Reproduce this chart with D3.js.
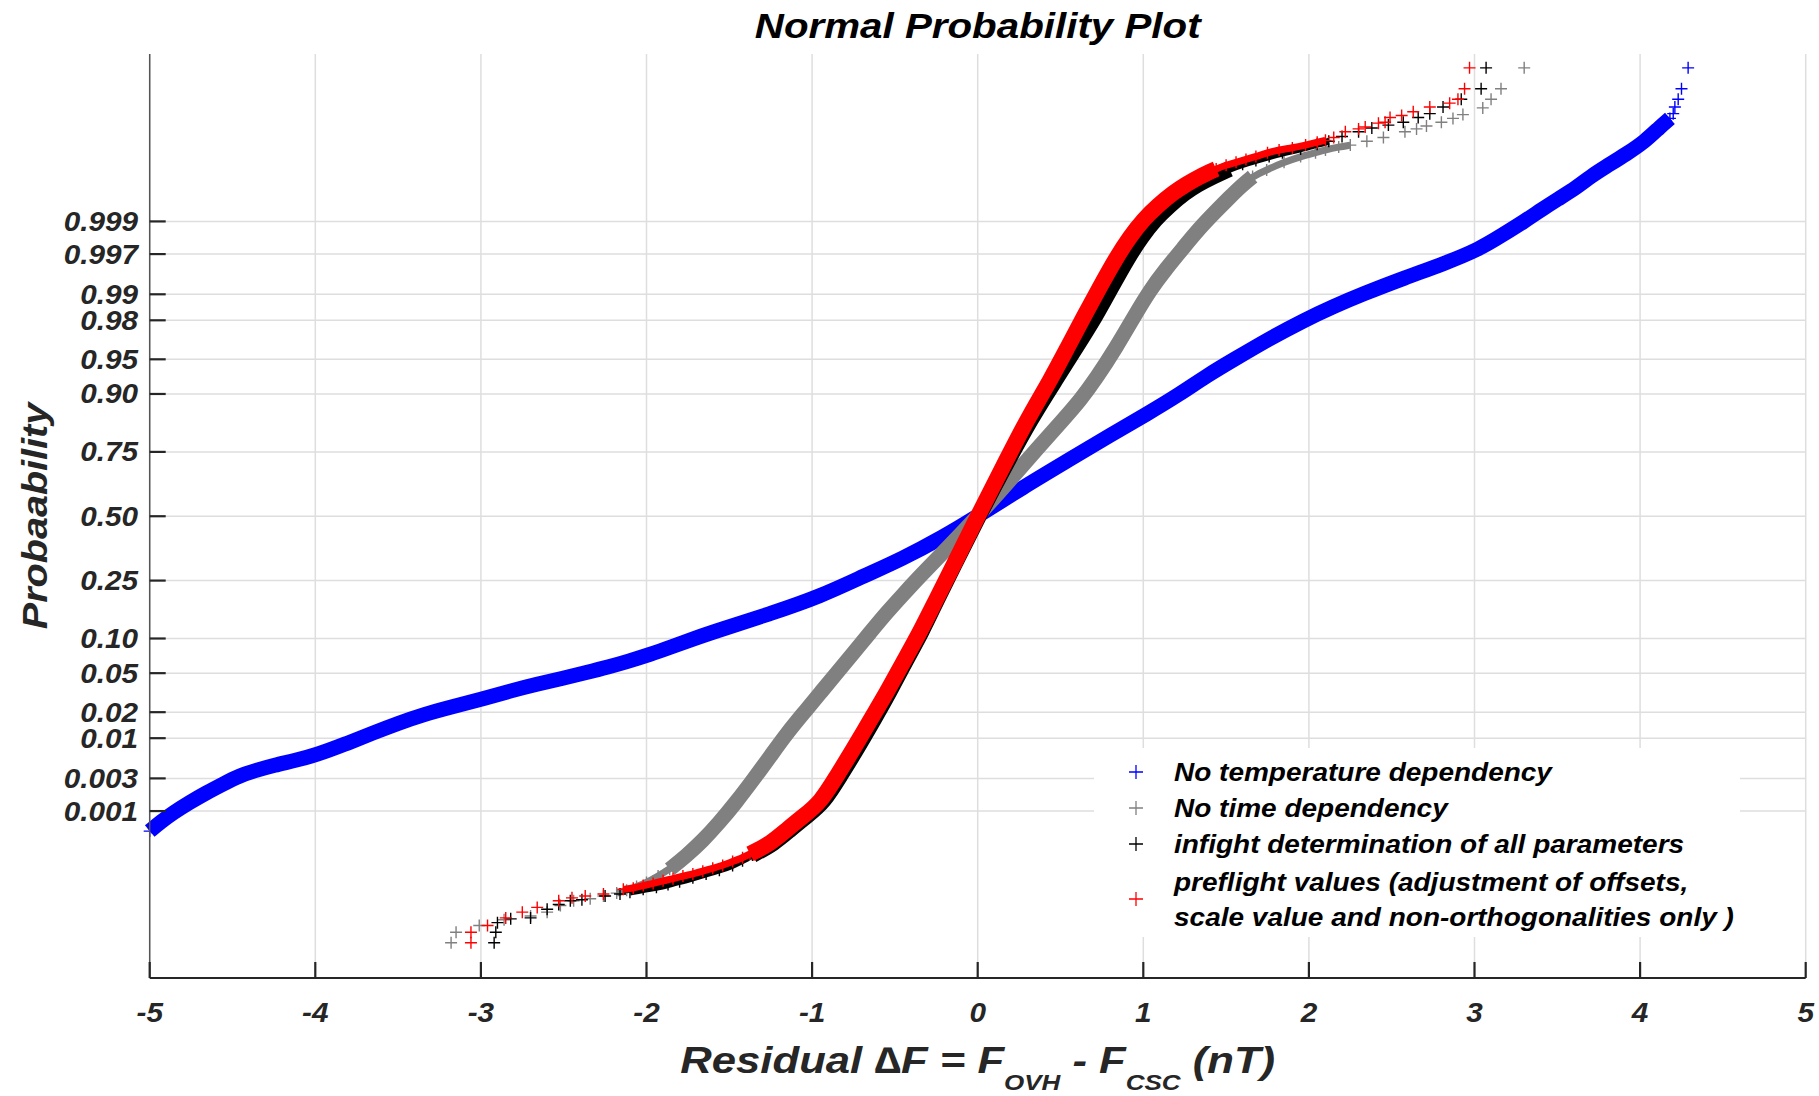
<!DOCTYPE html>
<html>
<head>
<meta charset="utf-8">
<script src="https://cdn.jsdelivr.net/npm/d3@7"></script>
<style>
  body { margin: 0; background: #fff; }
  text { font-family: "Liberation Sans", Arial, sans-serif; font-weight: bold; font-style: italic; }
</style>
</head>
<body>
<div id="chart"></div>
<script>
// points: [residual dF (nT), normal score]
// core = dense part (thick band), fringe = thinning edge of the band, tail = lone markers
const tempCore = [[-5.00,-3.30],[-4.93,-3.20],[-4.86,-3.11],[-4.76,-3.00],[-4.66,-2.90],[-4.56,-2.81],[-4.46,-2.72],
  [-4.35,-2.66],[-4.25,-2.61],[-4.12,-2.56],[-3.99,-2.50],[-3.82,-2.39],[-3.65,-2.27],[-3.50,-2.17],[-3.35,-2.08],
  [-3.18,-2.00],[-3.00,-1.92],[-2.82,-1.83],[-2.66,-1.76],[-2.51,-1.70],[-2.37,-1.64],[-2.23,-1.58],[-2.11,-1.52],
  [-1.98,-1.45],[-1.85,-1.37],[-1.71,-1.28],[-1.556,-1.19],[-1.25,-1.02],[-0.95,-0.84],[-0.68,-0.62],[-0.46,-0.45],
  [-0.21,-0.22],[0,0],[0.27,0.30],[0.55,0.59],[0.80,0.85],[1.03,1.08],[1.22,1.28],[1.38,1.47],[1.55,1.645],
  [1.75,1.85],[1.97,2.054],[2.15,2.20],[2.32,2.326],[2.58,2.50],[2.82,2.65],[3.03,2.80],[3.17,2.95],[3.30,3.09],
  [3.41,3.22],[3.50,3.32],[3.62,3.45],[3.70,3.56],[3.79,3.66],[3.92,3.80],[4.03,3.93],[4.12,4.08],[4.18,4.17]];
const tempFringe = [];
const tempTail = [[4.20,4.22],[4.21,4.29],[4.23,4.37],[4.25,4.48],[4.29,4.70]];

const timeCore = [[-1.86,-3.70],[-1.76,-3.56],[-1.66,-3.40],[-1.56,-3.21],[-1.46,-3.00],[-1.355,-2.76],
  [-1.25,-2.51],[-1.15,-2.27],[-1.05,-2.06],[-0.95,-1.85],[-0.85,-1.64],[-0.75,-1.43],[-0.65,-1.22],[-0.55,-1.01],
  [-0.45,-0.82],[-0.35,-0.63],[-0.17,-0.31],[0,0],[0.18,0.35],[0.36,0.71],[0.52,1.02],[0.62,1.22],[0.71,1.43],
  [0.84,1.78],[0.94,2.08],[1.04,2.37],[1.14,2.60],[1.24,2.81],[1.34,3.02],[1.44,3.20],[1.52,3.34],[1.59,3.46],
  [1.66,3.56]];
const timeFringe = [[-2.18,-3.95],[-2.12,-3.92],[-2.06,-3.88],[-2.00,-3.84],[-1.93,-3.77],
  [1.745,3.63],[1.85,3.71],[1.95,3.77],[2.04,3.81],[2.10,3.84],[2.18,3.87],[2.25,3.89]];
const timeTail = [[-3.18,-4.47],[-3.15,-4.36],[-3.01,-4.29],[-2.86,-4.23],[-2.70,-4.19],[-2.60,-4.15],[-2.52,-4.08],
  [-2.44,-4.03],[-2.34,-4.01],[-2.26,-3.98],
  [2.35,3.93],[2.45,3.97],[2.58,4.03],[2.65,4.06],[2.71,4.09],[2.80,4.13],[2.87,4.17],[2.93,4.21],[3.05,4.28],
  [3.10,4.37],[3.16,4.48],[3.30,4.70]];

const inflightCore = [[-1.36,-3.55],[-1.23,-3.43],[-1.13,-3.28],[-1.03,-3.14],[-0.93,-3.00],[-0.83,-2.72],
  [-0.73,-2.44],[-0.63,-2.14],[-0.535,-1.85],[-0.44,-1.53],[-0.34,-1.22],[-0.245,-0.87],[-0.145,-0.52],[0.005,0],
  [0.16,0.51],[0.32,1.02],[0.47,1.43],[0.59,1.76],[0.71,2.09],[0.81,2.41],[0.91,2.72],[0.99,2.93],[1.07,3.11],
  [1.16,3.26],[1.25,3.39],[1.33,3.48],[1.42,3.56],[1.52,3.64]];
const inflightFringe = [[-2.10,-3.94],[-2.02,-3.91],[-1.94,-3.89],[-1.87,-3.86],[-1.80,-3.83],[-1.72,-3.79],
  [-1.64,-3.75],[-1.56,-3.71],[-1.48,-3.66],[-1.42,-3.61],
  [1.60,3.69],[1.68,3.73],[1.76,3.77],[1.84,3.81],[1.95,3.85],[2.05,3.90],[2.12,3.93]];
const inflightTail = [[-2.92,-4.47],[-2.91,-4.36],[-2.90,-4.26],[-2.82,-4.22],[-2.70,-4.21],[-2.60,-4.12],
  [-2.53,-4.07],[-2.46,-4.03],[-2.39,-4.02],[-2.25,-3.98],[-2.16,-3.96],
  [2.20,3.98],[2.30,4.03],[2.38,4.07],[2.48,4.10],[2.57,4.13],[2.66,4.18],[2.73,4.22],[2.81,4.29],[2.92,4.37],
  [3.04,4.48],[3.07,4.70]];

const preflightCore = [[-1.375,-3.54],[-1.25,-3.43],[-1.15,-3.28],[-1.05,-3.14],[-0.95,-3.00],[-0.85,-2.72],
  [-0.75,-2.44],[-0.65,-2.14],[-0.55,-1.85],[-0.45,-1.53],[-0.35,-1.22],[-0.25,-0.87],[-0.147,-0.52],[0,0],
  [0.15,0.51],[0.30,1.02],[0.44,1.43],[0.54,1.76],[0.64,2.09],[0.74,2.41],[0.84,2.72],[0.92,2.93],[1.00,3.11],
  [1.09,3.26],[1.18,3.39],[1.26,3.48],[1.34,3.56],[1.44,3.64]];
const preflightFringe = [[-2.14,-3.91],[-2.08,-3.90],[-2.02,-3.87],[-1.96,-3.85],[-1.90,-3.82],[-1.84,-3.80],
  [-1.78,-3.77],[-1.72,-3.75],[-1.66,-3.72],[-1.60,-3.69],[-1.54,-3.66],[-1.48,-3.62],[-1.42,-3.58],
  [1.50,3.68],[1.56,3.71],[1.62,3.74],[1.68,3.77],[1.75,3.81],[1.82,3.84],[1.90,3.86],[1.98,3.89],[2.05,3.92],
  [2.10,3.94]];
const preflightTail = [[-3.06,-4.47],[-3.06,-4.36],[-2.96,-4.29],[-2.85,-4.21],[-2.75,-4.15],[-2.66,-4.10],
  [-2.53,-4.03],[-2.45,-4.00],[-2.37,-3.98],[-2.26,-3.96],
  [2.15,3.97],[2.22,4.03],[2.30,4.06],[2.34,4.08],[2.42,4.12],[2.46,4.13],[2.49,4.18],[2.56,4.20],[2.63,4.24],
  [2.73,4.29],[2.85,4.33],[2.90,4.37],[2.94,4.48],[2.97,4.70]];

const seriesNames = ['No temperature dependency', 'No time dependency',
  'infight determination of all parameters',
  'preflight values (adjustment of offsets,|scale value and non-orthogonalities only )'];
const seriesColors = ['#0000ff', '#808080', '#000000', '#ff0000'];

const probTicks = [0.001, 0.003, 0.01, 0.02, 0.05, 0.10, 0.25, 0.50, 0.75, 0.90, 0.95, 0.98, 0.99, 0.997, 0.999];
const probLabels = ['0.001', '0.003', '0.01', '0.02', '0.05', '0.10', '0.25', '0.50', '0.75', '0.90', '0.95', '0.98', '0.99', '0.997', '0.999'];
const xTicks = [-5, -4, -3, -2, -1, 0, 1, 2, 3, 4, 5];

// inverse normal cdf (Acklam) for the probability axis
function qnorm(p) {
  const a = [-3.969683028665376e+01, 2.209460984245205e+02, -2.759285104469687e+02, 1.383577518672690e+02, -3.066479806614716e+01, 2.506628277459239e+00];
  const b = [-5.447609879822406e+01, 1.615858368580409e+02, -1.556989798598866e+02, 6.680131188771972e+01, -1.328068155288572e+01];
  const c = [-7.784894002430293e-03, -3.223964580411365e-01, -2.400758277161838e+00, -2.549732539343734e+00, 4.374664141464968e+00, 2.938163982698783e+00];
  const d = [7.784695709041462e-03, 3.224671290700398e-01, 2.445134137142996e+00, 3.754408661907416e+00];
  const pl = 0.02425;
  let q, r;
  if (p < pl) {
    q = Math.sqrt(-2 * Math.log(p));
    return (((((c[0]*q+c[1])*q+c[2])*q+c[3])*q+c[4])*q+c[5]) / ((((d[0]*q+d[1])*q+d[2])*q+d[3])*q+1);
  }
  if (p > 1 - pl) {
    q = Math.sqrt(-2 * Math.log(1 - p));
    return -(((((c[0]*q+c[1])*q+c[2])*q+c[3])*q+c[4])*q+c[5]) / ((((d[0]*q+d[1])*q+d[2])*q+d[3])*q+1);
  }
  q = p - 0.5; r = q * q;
  return (((((a[0]*r+a[1])*r+a[2])*r+a[3])*r+a[4])*r+a[5])*q / (((((b[0]*r+b[1])*r+b[2])*r+b[3])*r+b[4])*r+1);
}

const width = 1819, height = 1096;
const plotLeft = 149.7, plotRight = 1805.7, plotTop = 54, plotBottom = 978;
const textColor = '#262626';

const svg = d3.select('#chart').append('svg')
  .attr('width', width)
  .attr('height', height);

svg.append('rect').attr('width', width).attr('height', height).attr('fill', '#fff');

const x = d3.scaleLinear().domain([-5, 5]).range([plotLeft, plotRight]);
const y = d3.scaleLinear().domain([-4.84, 4.845]).range([plotBottom, plotTop]);

// text slightly stretched sideways like the original figure
function label(parent, tx, ty, str, size, anchor, sx) {
  return parent.append('text')
    .attr('transform', `translate(${tx},${ty}) scale(${sx || 1.1},1)`)
    .attr('text-anchor', anchor || 'middle')
    .attr('font-size', size + 'px')
    .attr('fill', textColor)
    .text(str);
}

// Grid
const grid = svg.append('g').attr('stroke', '#dedede').attr('stroke-width', 1.5);
xTicks.forEach(t => {
  grid.append('line').attr('x1', x(t)).attr('x2', x(t)).attr('y1', plotTop).attr('y2', plotBottom);
});
probTicks.forEach(p => {
  grid.append('line').attr('x1', plotLeft).attr('x2', plotRight).attr('y1', y(qnorm(p))).attr('y2', y(qnorm(p)));
});

// Data
const plot = svg.append('g');
const line = d3.line().x(d => x(d[0])).y(d => y(d[1])).curve(d3.curveBasis);
const plus = 'M-6,0H6M0,-6V6';

const series = [
  { core: tempCore, fringe: tempFringe, tail: tempTail, band: 15 },
  { core: timeCore, fringe: timeFringe, tail: timeTail, band: 15 },
  { core: inflightCore, fringe: inflightFringe, tail: inflightTail, band: 16 },
  { core: preflightCore, fringe: preflightFringe, tail: preflightTail, band: 16 }
];

series.forEach((s, i) => {
  const color = seriesColors[i];
  const thin = s.core.concat(s.fringe).sort((a, b) => a[1] - b[1]);

  plot.append('path')
    .attr('d', line(thin))
    .attr('fill', 'none')
    .attr('stroke', color)
    .attr('stroke-width', 7)
    .attr('stroke-linejoin', 'round');

  plot.append('path')
    .attr('d', line(s.core))
    .attr('fill', 'none')
    .attr('stroke', color)
    .attr('stroke-width', s.band)
    .attr('stroke-linejoin', 'round');

  plot.selectAll(null)
    .data(s.core.concat(s.fringe, s.tail))
    .enter()
    .append('path')
    .attr('transform', d => `translate(${x(d[0])},${y(d[1])})`)
    .attr('d', plus)
    .attr('stroke', color)
    .attr('stroke-width', 1.4)
    .attr('fill', 'none');
});

// Axes
const axes = svg.append('g').attr('stroke', textColor);
axes.append('line').attr('x1', plotLeft).attr('x2', plotLeft).attr('y1', plotTop).attr('y2', plotBottom)
  .attr('stroke', '#555').attr('stroke-width', 1.5);
axes.append('line').attr('x1', plotLeft).attr('x2', plotRight).attr('y1', plotBottom).attr('y2', plotBottom)
  .attr('stroke-width', 2.2);
probTicks.forEach(p => {
  axes.append('line').attr('x1', plotLeft).attr('x2', plotLeft + 16)
    .attr('y1', y(qnorm(p))).attr('y2', y(qnorm(p))).attr('stroke-width', 2.2);
});
xTicks.forEach(t => {
  axes.append('line').attr('x1', x(t)).attr('x2', x(t))
    .attr('y1', plotBottom).attr('y2', plotBottom - 16).attr('stroke-width', 2.2);
});

// Tick labels
probTicks.forEach((p, i) => {
  label(svg, 138, y(qnorm(p)) + 9.5, probLabels[i], 27, 'end', 1.1);
});
xTicks.forEach(t => {
  label(svg, x(t), 1022, String(t), 27, 'middle', 1.1);
});

// Title and axis titles
label(svg, (plotLeft + plotRight) / 2, 38, 'Normal Probability Plot', 36, 'middle', 1.12).attr('fill', '#000');

svg.append('text')
  .attr('transform', 'translate(47,516) rotate(-90) scale(1.1,1)')
  .attr('text-anchor', 'middle')
  .attr('font-size', '36px')
  .attr('fill', textColor)
  .text('Probaability');

const xl = svg.append('text')
  .attr('transform', `translate(${(plotLeft + plotRight) / 2},1073) scale(1.18,1)`)
  .attr('text-anchor', 'middle')
  .attr('font-size', '37px')
  .attr('fill', textColor);
xl.append('tspan').text('Residual \u2206F = F');
xl.append('tspan').attr('font-size', '22px').attr('dy', 17).text('OVH');
xl.append('tspan').attr('dy', -17).text(' - F');
xl.append('tspan').attr('font-size', '22px').attr('dy', 17).text('CSC');
xl.append('tspan').attr('dy', -17).text(' (nT)');

// Legend
const legend = svg.append('g');
legend.append('rect')
  .attr('x', 1094).attr('y', 748).attr('width', 646).attr('height', 189)
  .attr('fill', '#fff');

const markerY = [772, 808, 844, 899];
seriesNames.forEach((name, i) => {
  legend.append('path')
    .attr('transform', `translate(1136,${markerY[i]})`)
    .attr('d', 'M-7,0H7M0,-7V7')
    .attr('stroke', seriesColors[i])
    .attr('stroke-width', 1.3)
    .attr('fill', 'none');
  const lines = name.split('|');
  const startY = markerY[i] - (lines.length - 1) * 17.5;
  lines.forEach((ln, j) => {
    label(legend, 1174, startY + j * 35 + 9, ln, 25, 'start', 1.12).attr('fill', '#000');
  });
});
</script>
</body>
</html>
